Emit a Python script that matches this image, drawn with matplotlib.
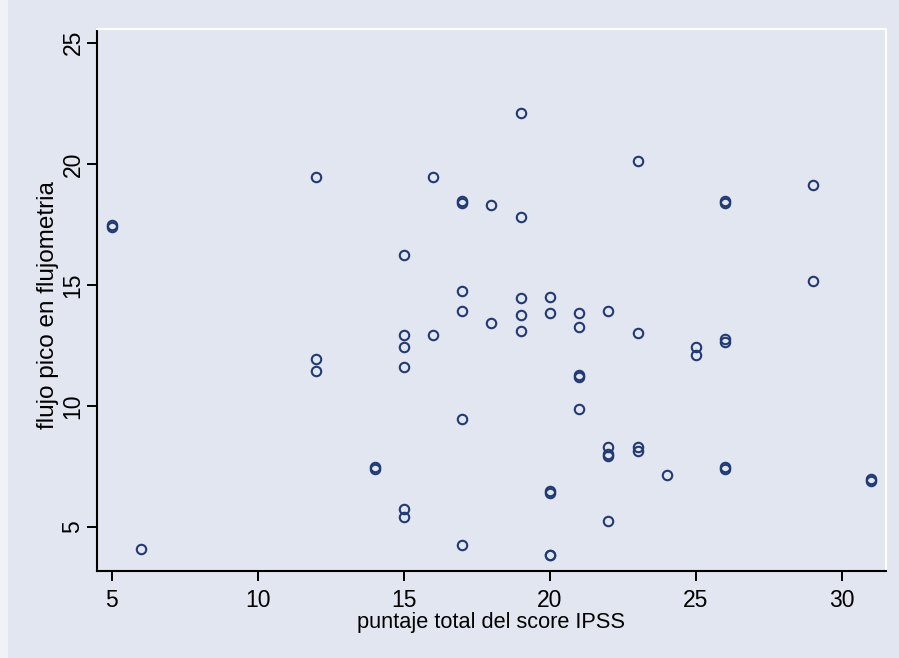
import matplotlib
matplotlib.use('Agg')
from matplotlib import pyplot as plt
from matplotlib.patches import Rectangle

# IPSS total score vs peak flow
ipss = [5, 5, 6, 12, 12, 12, 14, 14, 15, 15, 15, 15, 15, 15,
        16, 16, 17, 17, 17, 17, 17, 17, 18, 18,
        19, 19, 19, 19, 19, 20, 20, 20, 20, 20, 20,
        21, 21, 21, 21, 21, 22, 22, 22, 22, 22,
        23, 23, 23, 23, 24, 25, 25, 26, 26, 26, 26, 26, 26,
        29, 29, 31, 31]
flujo = [17.38, 17.48, 4.09, 19.45, 11.94, 11.45, 7.40, 7.48, 16.23, 12.93, 12.44, 11.61, 5.76, 5.41,
         19.45, 12.93, 18.38, 18.48, 14.75, 13.92, 9.45, 4.24, 18.32, 13.43,
         22.11, 17.81, 14.44, 13.76, 13.10, 14.50, 13.84, 6.40, 6.50, 3.83, 3.83,
         13.84, 13.26, 11.18, 11.28, 9.86, 13.93, 8.29, 7.92, 8.00, 5.25,
         20.12, 13.02, 8.29, 8.14, 7.15, 12.44, 12.12, 18.38, 18.48, 12.66, 12.76, 7.40, 7.48,
         19.13, 15.17, 6.90, 6.98]

xticks = [5, 10, 15, 20, 25, 30]
yticks = [5, 10, 15, 20, 25]

bg = '#e1e6f0'
navy = '#223a72'

plt.rcParams['font.family'] = ['Liberation Sans', 'DejaVu Sans']

fig = plt.figure(figsize=(8.99, 6.58), dpi=100)
fig.patch.set_facecolor(bg)
# thin white strip on the left edge like the exported graph
fig.patches.append(Rectangle((0, 0), 8 / 899, 1, transform=fig.transFigure,
                             facecolor='white', edgecolor='none', alpha=0.5))

ax = fig.add_axes([97 / 899, (658 - 571) / 658, (886 - 97) / 899, (571 - 29) / 658])
ax.set_facecolor(bg)

ax.plot(ipss, flujo, 'o', markerfacecolor='none', markeredgecolor=navy,
        markersize=6.8, markeredgewidth=1.5, linestyle='none')

ax.set_xlim(4.5, 31.5)
ax.set_ylim(3.18, 25.57)
ax.set_xticks(xticks)
ax.set_yticks(yticks)
ax.set_yticklabels([str(v) for v in yticks], rotation=90, va='center')

ax.tick_params(axis='both', labelsize=16.5, length=7, width=1.4, color='black')
ax.tick_params(axis='x', pad=6)
ax.tick_params(axis='y', pad=2)

for side in ['left', 'bottom']:
    ax.spines[side].set_color('black')
    ax.spines[side].set_linewidth(1.5)
for side in ['top', 'right']:
    ax.spines[side].set_color('white')
    ax.spines[side].set_linewidth(1.5)

ax.set_xlabel('puntaje total del score IPSS', fontsize=15.7, labelpad=0)
ax.set_ylabel('flujo pico en flujometria', fontsize=17.5, va='center')
ax.yaxis.set_label_coords(-0.062, 0.491)

fig.savefig('out.png', dpi=100, facecolor=bg)
